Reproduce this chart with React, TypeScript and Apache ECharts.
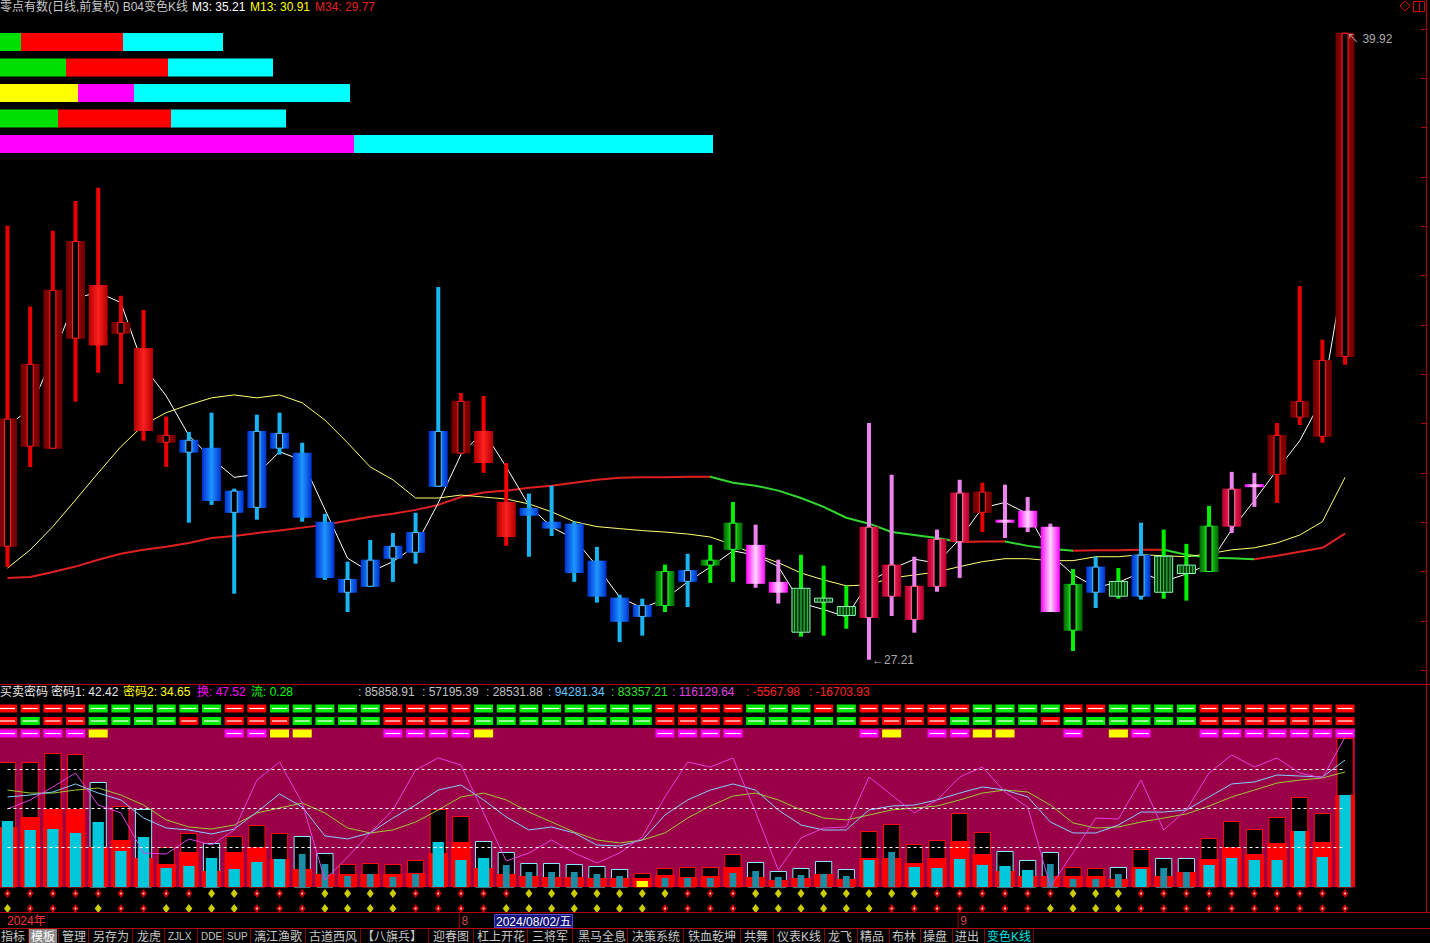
import React, { useEffect, useRef } from "react";
import * as echarts from "echarts";

// ---------------- main K-line (prices) ----------------
const opens = [29.50, 31.53, 31.49, 33.72, 34.81, 33.82, 33.53, 31.61, 31.41, 31.51,
  30.19, 30.29, 31.49, 31.41, 30.01, 28.57, 28.69, 29.26, 29.38, 30.72,
  31.39, 31.85, 30.41, 30.29, 30.01, 29.97, 29.22, 28.47, 28.08, 28.30,
  28.79, 29.12, 29.44, 29.54, 28.79, 28.67, 28.47, 28.30, 28.06, 28.49,
  28.02, 28.69, 29.60, 30.19, 30.05, 30.23, 29.91, 27.80, 28.57, 28.81,
  28.49, 29.32, 29.14, 28.99, 29.91, 30.76, 30.96, 32.12, 31.73, 33.35];
const closes = [32.10, 33.21, 34.71, 35.70, 33.58, 34.06, 31.85, 31.77, 31.67, 30.43,
  30.64, 31.85, 31.81, 30.09, 28.87, 28.85, 29.24, 29.52, 29.80, 31.85,
  32.46, 31.20, 29.70, 30.13, 29.87, 28.97, 28.49, 27.98, 28.32, 29.01,
  29.03, 29.24, 29.99, 28.75, 28.57, 27.76, 28.37, 28.10, 29.91, 29.14,
  28.71, 29.66, 30.60, 30.62, 29.99, 29.89, 28.18, 28.75, 29.10, 28.49,
  29.34, 28.57, 28.95, 29.93, 30.68, 30.72, 31.77, 32.46, 33.29, 39.92];
const lows = [29.09, 31.12, 31.49, 32.44, 33.03, 32.80, 31.65, 31.12, 29.99, 30.35,
  28.55, 30.05, 31.37, 30.01, 28.83, 28.18, 28.69, 28.79, 29.16, 30.72,
  31.39, 31.00, 29.52, 29.30, 29.72, 28.79, 28.37, 27.57, 27.70, 28.18,
  28.28, 28.77, 28.79, 28.67, 28.35, 27.68, 27.70, 27.84, 27.21, 28.10,
  27.76, 28.59, 28.87, 29.80, 29.68, 29.80, 28.18, 27.39, 28.26, 28.45,
  28.43, 28.45, 28.41, 28.99, 29.78, 30.31, 30.39, 31.97, 31.61, 33.19];
const highs = [36.01, 34.37, 35.91, 36.51, 36.78, 34.59, 34.30, 32.14, 31.83, 32.22,
  30.68, 32.18, 32.22, 31.61, 30.17, 29.20, 29.64, 29.78, 30.19, 34.77,
  32.62, 32.56, 31.20, 30.58, 30.74, 30.01, 29.50, 28.53, 28.45, 29.14,
  29.36, 29.54, 30.41, 29.95, 29.24, 29.34, 29.12, 28.71, 32.01, 30.96,
  29.30, 29.85, 30.86, 30.80, 30.76, 30.51, 29.97, 29.05, 29.30, 29.07,
  29.99, 29.85, 29.56, 30.33, 31.02, 31.00, 32.01, 34.79, 33.70, 39.92];
// colour class of each candle: k dark red, r red, b blue, g green, h hatched green, p pink, c crimson
const candleKinds = ("kkkk" + "r" + "k" + "r" + "k" + "bbbbbbbbbbbb" + "k" + "rr" + "bbbbbb" + "g" + "b" + "gg" +
  "pp" + "hhh" + "ccccc" + "k" + "ppp" + "g" + "b" + "h" + "b" + "hh" + "g" + "c" + "p" + "kkkk").split("");

const ma3 = [31.95, 32.30, 33.34, 34.54, 34.66, 34.45, 33.16, 32.56, 31.76, 31.29,
  30.91, 30.97, 31.43, 31.25, 30.26, 29.27, 28.99, 29.20, 29.52, 30.39,
  31.37, 31.84, 31.12, 30.34, 29.90, 29.66, 29.11, 28.48, 28.26, 28.44,
  28.79, 29.09, 29.42, 29.33, 29.10, 28.36, 28.23, 28.08, 28.79, 29.05,
  29.25, 29.17, 29.66, 30.29, 30.40, 30.17, 29.35, 28.94, 28.68, 28.78,
  28.98, 28.80, 28.95, 29.15, 29.85, 30.44, 31.06, 31.65, 32.51, 35.21];
const ma13 = [29.07, 29.44, 29.91, 30.45, 31.00, 31.53, 31.97, 32.22, 32.38, 32.52,
  32.58, 32.52, 32.58, 32.42, 32.07, 31.61, 31.12, 30.86, 30.49, 30.49,
  30.55, 30.51, 30.47, 30.37, 30.21, 30.01, 29.91, 29.87, 29.83, 29.80,
  29.76, 29.70, 29.54, 29.34, 29.18, 28.97, 28.83, 28.71, 28.73, 28.87,
  28.93, 28.99, 29.10, 29.20, 29.26, 29.26, 29.22, 29.22, 29.30, 29.30,
  29.34, 29.32, 29.30, 29.36, 29.44, 29.48, 29.58, 29.74, 30.01, 30.91];
const ma34 = [28.87, 28.89, 28.99, 29.10, 29.24, 29.36, 29.44, 29.50, 29.58, 29.68,
  29.72, 29.78, 29.83, 29.89, 29.95, 30.03, 30.11, 30.17, 30.25, 30.35,
  30.51, 30.60, 30.64, 30.70, 30.74, 30.80, 30.86, 30.90, 30.91, 30.91,
  30.92, 30.92, 30.80, 30.74, 30.64, 30.49, 30.31, 30.09, 29.97, 29.80,
  29.74, 29.68, 29.60, 29.61, 29.61, 29.52, 29.46, 29.42, 29.43, 29.43,
  29.44, 29.44, 29.34, 29.28, 29.27, 29.25, 29.32, 29.40, 29.48, 29.77];
const priceTicks = [27, 28, 29, 30, 31, 32, 33, 34, 35, 36, 37, 38, 39, 40];

// ---------------- top horizontal bars ----------------
const topBarRows = ["1", "2", "3", "4", "5"];
const topSeg1 = [21, 66, 78, 58, 354];
const topSeg2 = [102, 102, 56, 113, 0];
const topSeg3 = [100, 105, 216, 115, 359];
const topCol1 = ["#00e000", "#00e000", "#ffff00", "#00e000", "#ff00ff"];
const topCol2 = ["#ff0000", "#ff0000", "#ff00ff", "#ff0000", "#ff00ff"];
const topCol3 = ["#00ffff", "#00ffff", "#00ffff", "#00ffff", "#00ffff"];

// ---------------- indicator panel ----------------
const sigRowA = ("rrrr" + "gggggg" + "rr" + "ggggg" + "rrrr" + "gggggggg" + "rrrr" + "ggg" + "r" + "g" +
  "rrrrr" + "gggg" + "rr" + "gggg" + "rrrrrrr").split("");
const sigRowB = ("r" + "g" + "rr" + "gggg" + "r" + "g" + "rrr" + "gggg" + "rrrr" + "gggggggg" + "rrrr" +
  "ggggg" + "rrrr" + "gggg" + "r" + "gggggg" + "rrrrrrr").split("");
const sigRowC = ("mmmm" + "y" + "....." + "mm" + "yy" + "..." + "mmmm" + "y" + "......." + "mmmm" + "....." +
  "m" + "y" + "." + "mm" + "yy" + ".." + "m" + "." + "y" + "m" + ".." + "mmmmmmm").split("");

const boxH = [125, 125, 134, 133, 105, 81, 78, 40, 54, 44, 51, 62, 54, 51, 34, 23, 24, 23, 27, 78,
  71, 46, 35, 24, 24, 23, 21, 18, 14, 19, 20, 20, 33, 25, 16, 19, 26, 18, 56, 63,
  43, 47, 74, 55, 36, 27, 35, 20, 19, 20, 38, 29, 29, 49, 66, 58, 70, 90, 74, 149];
const redH = [60, 70, 78, 78, 40, 47, 29, 23, 35, 16, 35, 40, 28, 18, 13, 13, 13, 13, 14, 34,
  45, 19, 13, 11, 10, 10, 9, 9, 9, 12, 10, 11, 20, 10, 7, 9, 13, 8, 29, 29,
  24, 29, 46, 33, 16, 11, 11, 11, 11, 8, 20, 11, 15, 28, 40, 33, 44, 56, 45, 92];
const cyanH = [66, 57, 58, 54, 65, 36, 50, 19, 21, 29, 18, 25, 28, 33, 23, 11, 13, 10, 13, 45,
  27, 29, 22, 15, 15, 15, 13, 11, 6, 9, 9, 9, 14, 16, 10, 12, 13, 11, 27, 35,
  20, 19, 28, 22, 21, 17, 23, 8, 8, 13, 18, 19, 15, 22, 29, 27, 27, 56, 30, 92];
const boxKind = ("rrrr" + "c" + "r" + "c" + "rr" + "c" + "rrr" + "cc" + "rrrrrr" + "ccccccc" + "rrrrr" +
  "ccccc" + "rrrrrr" + "ccc" + "rr" + "c" + "r" + "cc" + "rrrrrrr").split("");
const cyanKind = ("bbbbbbbbbbbbb" + "dddddd" + "bbb" + "dddddd" + "y" + "ddddddddd" + "b" + "d" +
  "bbbbbb" + "dddd" + "b" + "dd" + "bbbbbbb").split("");

const lineJ = [49.2, 56.2, 66.2, 76.9, 52.3, 46.2, 15.4, 14.6, 26.2, 21.5,
  33.1, 71.5, 85.4, 53.8, -5.4, 12.3, 30.8, 48.5, 79.2, 88.5,
  83.1, 46.2, 9.2, 15.4, 25.4, 15.4, 7.7, 15.4, 27.7, 58.5,
  85.4, 81.5, 88.5, 46.9, 2.3, 26.9, 34.6, 35.4, 73.8, 60.0,
  46.2, 56.2, 73.8, 81.5, 62.3, 50.8, -10.5, 15.4, 42.3, 41.5,
  71.5, 33.1, 48.5, 76.9, 90.8, 81.5, 88.5, 76.9, 73.1, 104.6];
const lineK = [58.5, 60.0, 62.3, 68.5, 61.5, 56.2, 42.3, 34.6, 33.1, 30.0,
  33.8, 46.9, 60.8, 50.8, 28.5, 26.2, 30.8, 42.3, 52.3, 63.8,
  67.7, 56.2, 43.1, 33.1, 35.4, 30.8, 21.5, 20.8, 25.4, 44.6,
  56.2, 63.8, 68.5, 63.8, 48.5, 36.9, 33.1, 33.1, 48.5, 51.5,
  52.3, 56.2, 61.5, 66.2, 63.8, 58.5, 39.2, 30.8, 30.8, 36.9,
  46.9, 46.9, 48.5, 58.5, 68.5, 70.0, 75.4, 74.6, 73.8, 86.9];
const lineD = [63.8, 61.5, 61.5, 63.8, 65.4, 60.0, 52.3, 40.8, 35.4, 33.8,
  36.9, 46.2, 50.0, 53.8, 46.2, 34.6, 30.8, 33.1, 39.2, 48.5,
  58.5, 61.5, 56.2, 46.9, 39.2, 31.5, 25.4, 23.1, 25.4, 30.8,
  42.3, 51.5, 59.2, 61.5, 56.2, 48.5, 42.3, 40.8, 44.6, 48.5,
  50.0, 51.5, 56.2, 61.5, 63.8, 62.3, 52.3, 38.5, 34.6, 35.4,
  39.2, 42.3, 45.4, 51.5, 58.5, 63.8, 69.2, 71.5, 73.1, 77.7];
const refLevels = [20, 50, 80];

const dotRow1 = ("rrrrrrrrr" + "yy" + "rrr" + "yyyy" + "rrrrr" + "yyyyyyy" + "rrr" + "yyyyyyyy" + "rrrrrr" +
  "yyy" + "rrrrrrrrrr").split("");
const dotRow2 = ("y" + "rrr" + "y" + "rr" + "yyyy" + "rrr" + "yyyy" + "rrrr" + "yyyyyyy" + "rrrr" + "yyyyyy" +
  "rrrrrrr" + "yyyy" + "rrrrrrrrrr").split("");

const dateMarkIdx = [0, 20, 42];
const dateMarkText = ["2024年", "8", "9"];

const headTexts = ["零点有数(日线,前复权) B04变色K线", "M3: 35.21", "M13: 30.91", "M34: 29.77"];
const indTexts = ["买卖密码", "密码1: 42.42", "密码2: 34.65", "换: 47.52", "流: 0.28", ": 85858.91", ": 57195.39",
  ": 28531.88", ": 94281.34", ": 83357.21", ": 116129.64", ": -5567.98", ": -16703.93"];
const tabLabels = ["指标", "模板", "管理", "另存为", "龙虎", "ZJLX", "DDE", "SUP", "漓江渔歌", "古道西风", "【八旗兵】",
  "迎春图", "杠上开花", "三将军", "黑马全息", "决策系统", "铁血乾坤", "共舞", "仪表K线", "龙飞", "精品", "布林", "操盘", "进出", "变色K线"];

// ---------------- layout / style (not data) ----------------
const FONT = '"Liberation Sans", "Noto Sans CJK SC", sans-serif';
const X_MIN = -0.331, X_MAX = 62.57;
const headX = [0, 192, 250, 315];
const headCol = ["#c8c8c8", "#ffffff", "#ffff00", "#e82020"];
const indX = [0, 51, 123, 197, 251, 358, 422, 486, 548, 611, 672, 746, 809];
const indCol = ["#e8e8e8", "#e8e8e8", "#ffff00", "#ff00ff", "#00ff00", "#c0c0c0", "#c0c0c0", "#c0c0c0",
  "#60c8ff", "#30e030", "#e040e0", "#ff2020", "#ff2020"];
const tabX = [1, 31, 62, 93, 137, 168, 201, 227, 254, 309, 362, 433, 477, 532, 578, 632, 688, 744, 777, 828, 860, 892, 923, 955, 987];
const tabSep = [28, 58, 88, 132, 164, 197, 223, 250, 305, 360, 428, 473, 527, 572, 627, 683, 740, 773, 824, 857, 889, 920, 952, 984, 1033];

const PAL: Record<string, any> = {
  k: { wick: "#e80000", body: ["#6a0000", "#a00000", "#6a0000"], slot: "#ff2020" },
  r: { wick: "#f00000", body: ["#b00000", "#ff2020", "#b00000"], slot: "#ff4040" },
  b: { wick: "#18b4f4", body: ["#0030d0", "#1e96ff", "#0030d0"], slot: "#50c0ff" },
  g: { wick: "#00f000", body: ["#006400", "#22e622", "#006400"], slot: "#20ff20" },
  h: { wick: "#00f000", body: null, slot: "#90ffc0" },
  p: { wick: "#ee82ee", body: ["#ff00ff", "#ffd6ff", "#ff00ff"], slot: "#ffa0ff" },
  c: { wick: "#ee82ee", body: ["#b4002e", "#ff2560", "#b4002e"], slot: "#ff7aa8" },
};

function grad(stops: string[]) {
  return new echarts.graphic.LinearGradient(0, 0, 1, 0,
    stops.map((c, j) => ({ offset: j / (stops.length - 1), color: c })));
}

function renderCandle(params: any, api: any) {
  const d = params.dataIndex;
  const kind = candleKinds[d];
  const pal = PAL[kind];
  const i = api.value(0), o = api.value(1), c = api.value(2), l = api.value(3), h = api.value(4);
  const pO = api.coord([i, o]);
  const x = pO[0];
  const yO = pO[1], yC = api.coord([i, c])[1], yL = api.coord([i, l])[1], yH = api.coord([i, h])[1];
  const band = api.size([1, 0])[0];
  const bw = Math.round(band * 0.84);
  const ww = Math.max(3, Math.round(band * 0.18));
  let top = Math.min(yO, yC);
  let bh = Math.abs(yO - yC);
  if (bh < 3) { top -= (3 - bh) / 2; bh = 3; }
  const left = x - bw / 2;
  const kids: any[] = [
    { type: "rect", shape: { x: x - ww / 2, y: yH, width: ww, height: Math.max(1, yL - yH) }, style: { fill: pal.wick } },
  ];
  if (kind === "h") {
    kids.push({ type: "rect", shape: { x: left + 0.5, y: top + 0.5, width: bw - 1, height: bh - 1 },
      style: { fill: "#00380c", stroke: pal.slot, lineWidth: 1 } });
    for (let s = 1; s < 6; s++) {
      const sx = left + (bw * s) / 6;
      kids.push({ type: "line", shape: { x1: sx, y1: top + 1, x2: sx, y2: top + bh - 1 }, style: { stroke: "#38d048", lineWidth: 1 } });
    }
  } else {
    kids.push({ type: "rect", shape: { x: left, y: top, width: bw, height: bh }, style: { fill: grad(pal.body) } });
    if (c > o) {
      const sw = Math.round(band * 0.3);
      kids.push({ type: "rect", shape: { x: x - sw / 2 + 0.5, y: top + 0.5, width: sw - 1, height: Math.max(1, bh - 1) },
        style: { fill: "#000000", stroke: pal.slot, lineWidth: 1 } });
    }
  }
  return { type: "group", children: kids };
}

function renderIndicatorBar(params: any, api: any) {
  const d = params.dataIndex;
  const i = api.value(0);
  const base = api.coord([i, 0]);
  const x = base[0], y0 = base[1];
  const yb = api.coord([i, api.value(1)])[1];
  const yr = api.coord([i, api.value(2)])[1];
  const yc = api.coord([i, api.value(3)])[1];
  const band = api.size([1, 0])[0];
  const bw = band * 0.76, rw = band * 0.86;
  const ck = cyanKind[d];
  const cw = ck === "d" ? band * 0.3 : band * 0.5;
  const cFill = ck === "b" ? "#00c8dc" : ck === "d" ? "#1b8ea6" : "#ffff00";
  const stroke = boxKind[d] === "c" ? "#8ce6ff" : "#ff1010";
  return {
    type: "group",
    children: [
      { type: "rect", shape: { x: x - bw / 2 + 0.5, y: yb + 0.5, width: bw - 1, height: y0 - yb - 0.5 }, style: { fill: "#000000", stroke, lineWidth: 1 } },
      { type: "rect", shape: { x: x - rw / 2, y: yr, width: rw, height: y0 - yr }, style: { fill: "#ff0000" } },
      { type: "rect", shape: { x: x - cw / 2, y: yc, width: cw, height: y0 - yc }, style: { fill: cFill } },
    ],
  };
}

const sqItems: number[][] = [];
const sqCodes: string[] = [];
[sigRowA, sigRowB, sigRowC].forEach((row, r) => row.forEach((code, i) => {
  if (code !== ".") { sqItems.push([i, r]); sqCodes.push(code); }
}));
const SQ_FILL: Record<string, string> = { r: "#ff0000", g: "#00e800", m: "#ff00ff", y: "#ffff00" };

function renderSquare(params: any, api: any) {
  const code = sqCodes[params.dataIndex];
  const [x, y] = api.coord([api.value(0), api.value(1)]);
  const w = api.size([1, 0])[0] * 0.84, h = 8;
  const kids: any[] = [{ type: "rect", shape: { x: x - w / 2, y: y - h / 2, width: w, height: h }, style: { fill: SQ_FILL[code] } }];
  if (code !== "y") kids.push({ type: "line", shape: { x1: x - w / 2 + 2, y1: y, x2: x + w / 2 - 2, y2: y }, style: { stroke: "#ffffff", lineWidth: 1.2 } });
  return { type: "group", children: kids };
}

function renderDateMark(params: any, api: any) {
  const d = params.dataIndex;
  const bottom = api.coord([api.value(0), 0]);
  const top = api.coord([api.value(0), 1])[1];
  const x = bottom[0];
  const kids: any[] = [];
  if (d > 0) kids.push({ type: "line", shape: { x1: x - 1.5, y1: top, x2: x - 1.5, y2: bottom[1] }, style: { stroke: "#a00000", lineWidth: 1 } });
  kids.push({ type: "text", x: d > 0 ? x + 0.5 : x - 0.5, y: (top + bottom[1]) / 2,
    style: { text: dateMarkText[d], fill: d === 0 ? "#ff3030" : "#d04848", font: `12px ${FONT}`, verticalAlign: "middle", textVerticalAlign: "middle" } });
  return { type: "group", children: kids };
}

function txt(text: string, x: number, y: number, fill: string, size = 12, extra: any = {}) {
  return { type: "text", x, y, silent: true, z: 5,
    style: { text, fill, font: `${size}px ${FONT}`, verticalAlign: "middle", textVerticalAlign: "middle", ...extra } };
}
function ln(x1: number, y1: number, x2: number, y2: number, stroke: string) {
  return { type: "line", silent: true, z: 5, shape: { x1, y1, x2, y2 }, style: { stroke, lineWidth: 1 } };
}

function buildOption() {
  const RED = "#e02020", GREEN = "#30d830";
  const pieces: any[] = [];
  let start = 0;
  let col = ma34[1] >= ma34[0] ? RED : GREEN;
  for (let k = 1; k < ma34.length - 1; k++) {
    const c = ma34[k + 1] >= ma34[k] ? RED : GREEN;
    if (c !== col) { pieces.push({ gte: start, lt: k, color: col }); start = k; col = c; }
  }
  pieces.push({ gte: start, lte: ma34.length, color: col });

  const hiIdx = highs.indexOf(Math.max(...highs));
  const loIdx = lows.indexOf(Math.min(...lows));
  const pairs = (arr: number[]) => arr.map((v, i) => [i, v]);
  const xv = (g: number) => ({ type: "value", gridIndex: g, min: X_MIN, max: X_MAX, show: false });

  const graphics: any[] = [
    { type: "rect", silent: true, z: 0, shape: { x: 0, y: 728, width: 1355, height: 159 }, style: { fill: "#990047" } },
    ...headTexts.map((t, k) => txt(t, headX[k], 7, headCol[k])),
    ...indTexts.map((t, k) => txt(t, indX[k], 692, indCol[k])),
    ln(0, 684.5, 1430, 684.5, "#b40000"),
    ln(1426.5, 0, 1426.5, 913, "#b40000"),
    ln(0, 912.5, 1430, 912.5, "#b40000"),
    ln(0, 928.5, 1430, 928.5, "#b40000"),
    { type: "rect", silent: true, z: 5, shape: { x: 494.5, y: 914.5, width: 78, height: 13 }, style: { fill: "#14147a", stroke: "#5050d0", lineWidth: 1 } },
    txt("2024/08/02/五", 496, 921.5, "#ffffff"),
    { type: "rect", silent: true, z: 5, shape: { x: 29, y: 929, width: 28, height: 14 }, style: { fill: "#8a8a8a" } },
    ...tabLabels.map((t, k) => txt(t, tabX[k], 936.5, k === 24 ? "#00e0e0" : k === 1 ? "#ffffff" : "#c8c8c8",
      /^[A-Z]+$/.test(t) ? 10 : 12)),
    ...tabSep.map((x) => ln(x + 0.5, 929, x + 0.5, 943, "#8b0000")),
    { type: "polygon", silent: true, z: 5, shape: { points: [[1405, 1], [1410, 6], [1405, 11], [1400, 6]] }, style: { fill: "none", stroke: "#d00000", lineWidth: 1 } },
    { type: "rect", silent: true, z: 5, shape: { x: 1413.5, y: 1.5, width: 11, height: 10 }, style: { fill: "none", stroke: "#d00000", lineWidth: 1 } },
    ln(1419.5, 1.5, 1419.5, 11.5, "#d00000"),
  ];

  const series: any[] = [
    // 0: MA34 (coloured by slope through visualMap)
    { type: "line", xAxisIndex: 0, yAxisIndex: 0, z: 3, symbol: "none", silent: true, data: pairs(ma34), lineStyle: { width: 2 } },
    { type: "line", xAxisIndex: 0, yAxisIndex: 0, z: 3, symbol: "none", silent: true, data: pairs(ma13), lineStyle: { width: 1, color: "#ffff70" } },
    { type: "line", xAxisIndex: 0, yAxisIndex: 0, z: 3, symbol: "none", silent: true, data: pairs(ma3), lineStyle: { width: 1, color: "#ffffff" } },
    { type: "custom", xAxisIndex: 0, yAxisIndex: 0, z: 5, silent: true, renderItem: renderCandle,
      encode: { x: 0, y: [1, 2, 3, 4] }, data: opens.map((o, i) => [i, o, closes[i], lows[i], highs[i]]) },
    { type: "scatter", xAxisIndex: 0, yAxisIndex: 0, z: 12, silent: true, symbolSize: 0,
      data: [
        { value: [hiIdx, highs[hiIdx]], label: { show: true, position: "right", distance: 2, offset: [0, 6], color: "#d8d8d8", fontSize: 12, fontFamily: FONT, formatter: "↖ " + highs[hiIdx].toFixed(2) } },
        { value: [loIdx, lows[loIdx]], label: { show: true, position: "right", distance: 3, color: "#d8d8d8", fontSize: 12, fontFamily: FONT, formatter: "←" + lows[loIdx].toFixed(2) } },
      ] },
    // top bars
    { type: "bar", xAxisIndex: 1, yAxisIndex: 1, stack: "tb", barWidth: 18, silent: true, z: 4,
      data: topSeg1.map((v, k) => ({ value: v, itemStyle: { color: topCol1[k] } })) },
    { type: "bar", xAxisIndex: 1, yAxisIndex: 1, stack: "tb", barWidth: 18, silent: true, z: 4,
      data: topSeg2.map((v, k) => ({ value: v, itemStyle: { color: topCol2[k] } })) },
    { type: "bar", xAxisIndex: 1, yAxisIndex: 1, stack: "tb", barWidth: 18, silent: true, z: 4,
      data: topSeg3.map((v, k) => ({ value: v, itemStyle: { color: topCol3[k] } })) },
    // signal squares
    { type: "custom", xAxisIndex: 2, yAxisIndex: 2, z: 4, silent: true, renderItem: renderSquare, data: sqItems },
    // indicator bars
    { type: "custom", xAxisIndex: 3, yAxisIndex: 4, z: 2, silent: true, renderItem: renderIndicatorBar,
      data: boxH.map((b, i) => [i, b, redH[i], cyanH[i]]) },
    // indicator lines
    { type: "line", xAxisIndex: 3, yAxisIndex: 3, z: 4, symbol: "none", silent: true, data: pairs(lineD), lineStyle: { width: 1, color: "#a0c838" } },
    { type: "line", xAxisIndex: 3, yAxisIndex: 3, z: 4, symbol: "none", silent: true, data: pairs(lineK), lineStyle: { width: 1, color: "#88ccff" } },
    { type: "line", xAxisIndex: 3, yAxisIndex: 3, z: 4, symbol: "none", silent: true, data: pairs(lineJ), lineStyle: { width: 1, color: "#e040e0" },
      markLine: { silent: true, symbol: ["none", "none"], label: { show: false }, lineStyle: { color: "#ffffff", type: [3, 3], width: 1 },
        data: refLevels.map((v) => [{ coord: [0, v] }, { coord: [lineJ.length - 1, v] }]) } },
    // dots
    { type: "scatter", xAxisIndex: 4, yAxisIndex: 5, z: 4, silent: true, symbol: "diamond", symbolSize: [7, 9],
      data: [...dotRow1.map((c, i) => ({ value: [i, 0], itemStyle: { color: c === "r" ? "#f00000" : "#ffff00" } })),
        ...dotRow2.map((c, i) => ({ value: [i, 1], itemStyle: { color: c === "r" ? "#f00000" : "#ffff00" } }))] },
    { type: "scatter", xAxisIndex: 4, yAxisIndex: 5, z: 5, silent: true, symbol: "circle", symbolSize: 2,
      data: [...dotRow1.map((c, i) => (c === "r" ? [i, 0] : null)).filter(Boolean),
        ...dotRow2.map((c, i) => (c === "r" ? [i, 1] : null)).filter(Boolean)], itemStyle: { color: "#ffffff" } },
    // date marks
    { type: "custom", xAxisIndex: 5, yAxisIndex: 6, z: 5, silent: true, renderItem: renderDateMark, data: dateMarkIdx.map((i) => [i, 0]) },
  ];

  return {
    animation: false,
    backgroundColor: "#000000",
    grid: [
      { left: 0, top: 20, width: 1426, height: 664, outerBoundsMode: "none" },
      { left: 0, top: 29.25, width: 1426, height: 127.5, outerBoundsMode: "none" },
      { left: 0, top: 702.25, width: 1426, height: 37.5, outerBoundsMode: "none" },
      { left: 0, top: 728, width: 1426, height: 159, outerBoundsMode: "none" },
      { left: 0, top: 886, width: 1426, height: 30, outerBoundsMode: "none" },
      { left: 0, top: 913, width: 1426, height: 15, outerBoundsMode: "none" },
    ],
    xAxis: [xv(0), { type: "value", gridIndex: 1, min: 0, max: 1426, show: false }, xv(2), xv(3), xv(4), xv(5)],
    yAxis: [
      { type: "value", gridIndex: 0, min: 26.72, max: 40.18, position: "right",
        axisLine: { show: false, onZero: false }, axisLabel: { show: false }, splitLine: { show: false },
        axisTick: { show: true, inside: true, length: 5, lineStyle: { color: "#b40000" }, customValues: priceTicks } },
      { type: "category", gridIndex: 1, data: topBarRows, inverse: true, show: false },
      { type: "category", gridIndex: 2, data: ["A", "B", "C"], inverse: true, show: false },
      { type: "value", gridIndex: 3, min: -10.77, max: 111.54, show: false },
      { type: "value", gridIndex: 3, min: 0, max: 159, show: false },
      { type: "category", gridIndex: 4, data: ["d1", "d2"], inverse: true, show: false },
      { type: "value", gridIndex: 5, min: 0, max: 1, show: false },
    ],
    visualMap: [{ type: "piecewise", show: false, seriesIndex: 0, dimension: 0, pieces }],
    graphic: { elements: graphics },
    series,
  };
}

export default function App() {
  const ref = useRef<HTMLDivElement>(null);
  useEffect(() => {
    document.body.style.margin = "0";
    document.body.style.background = "#000";
    const chart = echarts.init(ref.current as HTMLDivElement, null, { renderer: "svg" });
    chart.setOption(buildOption() as any);
    return () => chart.dispose();
  }, []);
  return <div ref={ref} style={{ width: 1430, height: 943, background: "#000" }} />;
}
